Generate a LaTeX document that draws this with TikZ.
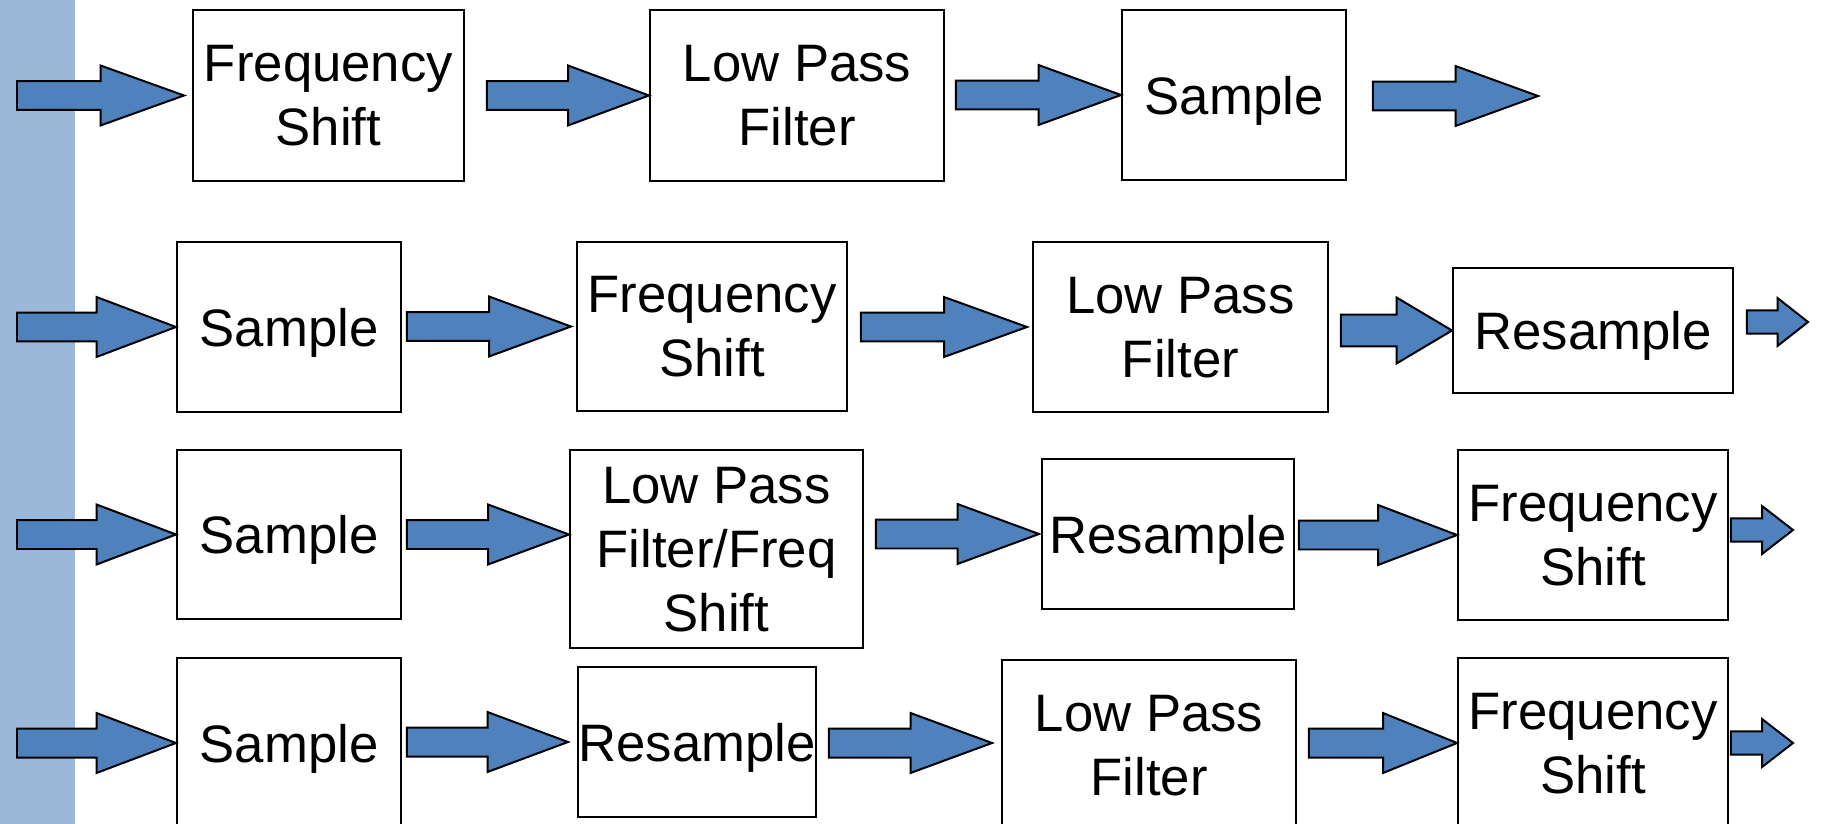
\documentclass[tikz,border=0pt]{standalone}
\usepackage{fontspec}
\setmainfont{Liberation Sans}
\usetikzlibrary{positioning, calc}
\definecolor{barblue}{RGB}{155,184,217}
\definecolor{arrowblue}{RGB}{79,129,189}

\begin{document}
\begin{tikzpicture}[
          x=0.02cm, y=-0.02cm,
          stage/.style={rectangle, draw=black, line width=0.04cm, inner sep=0pt, align=center, text depth=-3.4pt, font=\fontsize{30}{36.5}\selectfont},
          oneline/.style={stage, text depth=0pt},
          fatarrow/.style={fill=arrowblue, draw=black, line width=0.04cm,
            to path={let \p1=(\tikztostart), \p2=(\tikztotarget), \n1={0.5*(\x2-\x1)} in
              (\x1,\y2+#1*0.29cm) -- (\x1+\n1,\y2+#1*0.29cm) -- (\x1+\n1,\y2+#1*0.6cm) -- (\x2,\y2)
              -- (\x1+\n1,\y2-#1*0.6cm) -- (\x1+\n1,\y2-#1*0.29cm) -- (\x1,\y2-#1*0.29cm) -- cycle}},
          fatarrow/.default=1
        ]
          \useasboundingbox (0,0) rectangle (1822,824);
          \clip (0,0) rectangle (1822,824);

          % Input Bar
          \fill[barblue] (0,0) rectangle (75,824);

          % Row 1
          \node[stage, minimum width=5.42cm, minimum height=3.42cm] (fs1) at (328.5,95.5) {Frequency\\Shift};
          \node[stage, minimum width=5.88cm, minimum height=3.42cm] (lpf1) at (797,95.5) {Low Pass\\Filter};
          \node[oneline, minimum width=4.48cm, minimum height=3.4cm] (smp1) at (1234,95) {Sample};

          % Row 2
          \node[oneline, minimum width=4.48cm, minimum height=3.4cm] (smp2) at (289,327) {Sample};
          \node[stage, minimum width=5.4cm, minimum height=3.38cm] (fs2) at (712,326.5) {Frequency\\Shift};
          \node[stage, minimum width=5.9cm, minimum height=3.4cm] (lpf2) at (1180.5,327) {Low Pass\\Filter};
          \node[oneline, minimum width=5.6cm, minimum height=2.5cm] (rsm2) at (1593,330.5) {Resample};

          % Row 3
          \node[oneline, minimum width=4.48cm, minimum height=3.38cm] (smp3) at (289,534.5) {Sample};
          \node[stage, minimum width=5.86cm, minimum height=3.96cm] (lfs3) at (716.5,549) {Low Pass\\Filter/Freq\\Shift};
          \node[oneline, minimum width=5.04cm, minimum height=3.0cm] (rsm3) at (1168,534) {Resample};
          \node[stage, minimum width=5.4cm, minimum height=3.4cm] (fs3) at (1593,535) {Frequency\\Shift};

          % Row 4
          \node[oneline, minimum width=4.48cm, minimum height=3.4cm] (smp4) at (289,743) {Sample};
          \node[oneline, minimum width=4.76cm, minimum height=3.0cm] (rsm4) at (697,742) {Resample};
          \node[stage, minimum width=5.88cm, minimum height=3.4cm] (lpf4) at (1149,745) {Low Pass\\Filter};
          \node[stage, minimum width=5.4cm, minimum height=3.4cm] (fs4) at (1593,743) {Frequency\\Shift};

          % Free Ends
          \coordinate (in1) at (17,96);
          \coordinate (in2) at (17,327);
          \coordinate (in3) at (17,535);
          \coordinate (in4) at (17,743);
          \coordinate (out1) at (1538,96);
          \coordinate (out2) at (1808,322);
          \coordinate (out3) at (1793,530);
          \coordinate (out4) at (1793,743);

          % Connections
          \draw[fatarrow] (in1) to ($(fs1.west)+(-8,0)$);
          \draw[fatarrow] ($(fs1.east)+(22,0)$) to (lpf1.west);
          \draw[fatarrow] ($(lpf1.east)+(11,0)$) to (smp1.west);
          \draw[fatarrow] ($(smp1.east)+(26,0)$) to (out1);

          \draw[fatarrow] (in2) to (smp2.west);
          \draw[fatarrow] ($(smp2.east)+(5,0)$) to ($(fs2.west)+(-5,0)$);
          \draw[fatarrow] ($(fs2.east)+(13,0)$) to ($(lpf2.west)+(-5,0)$);
          \draw[fatarrow=1.1] ($(lpf2.east)+(12,0)$) to (rsm2.west);
          \draw[fatarrow=0.8] ($(rsm2.east)+(13,0)$) to (out2);

          \draw[fatarrow] (in3) to (smp3.west);
          \draw[fatarrow] ($(smp3.east)+(5,0)$) to (lfs3.west |- smp3.west);
          \draw[fatarrow] ($(lfs3.east)+(12,0)$) to ($(rsm3.west)+(-2,0)$);
          \draw[fatarrow] ($(rsm3.east)+(4,0)$) to (fs3.west);
          \draw[fatarrow=0.8] ($(fs3.east)+(2,0)$) to (out3);

          \draw[fatarrow] (in4) to (smp4.west);
          \draw[fatarrow] ($(smp4.east)+(5,0)$) to ($(rsm4.west)+(-9,0)$);
          \draw[fatarrow] ($(rsm4.east)+(12,0)$) to ($(lpf4.west |- smp4.west)+(-9,0)$);
          \draw[fatarrow] ($(lpf4.east)+(12,0)$) to (fs4.west);
          \draw[fatarrow=0.8] ($(fs4.east)+(2,0)$) to (out4);
        \end{tikzpicture}
\end{document}
